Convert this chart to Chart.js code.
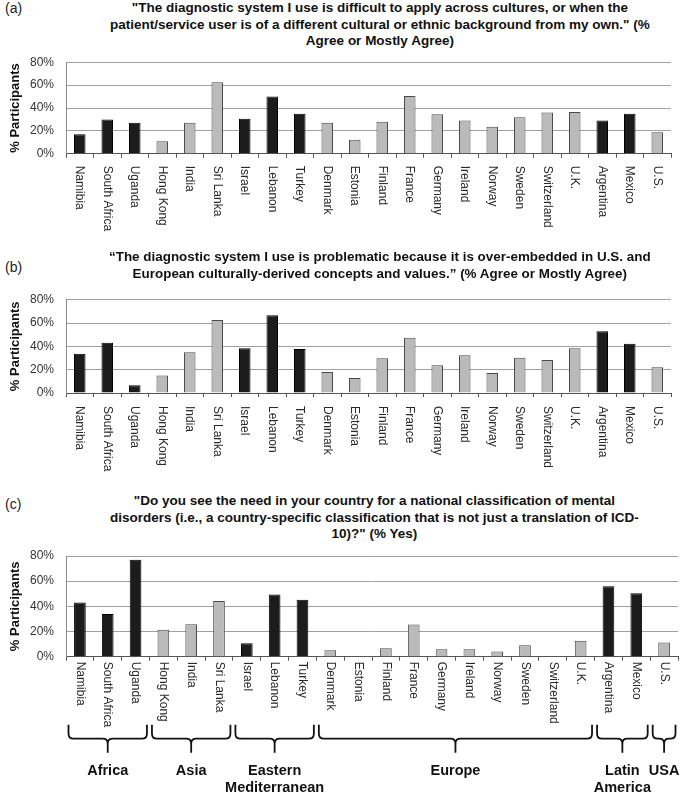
<!DOCTYPE html>
<html><head><meta charset="utf-8">
<script src="https://cdn.jsdelivr.net/npm/chart.js@4.4.0/dist/chart.umd.min.js"></script>
<style>
html,body{margin:0;padding:0;background:#fff;}
body{width:680px;height:796px;position:relative;overflow:hidden;font-family:'Liberation Sans',Arial,sans-serif;}
.cw{position:absolute;left:0;width:680px;}
.title{position:absolute;left:380px;white-space:nowrap;text-align:center;font-weight:bold;font-size:13.5px;line-height:16.5px;color:#111;transform-origin:0 0;}
.tag{position:absolute;left:5px;font-size:14px;color:#222;}
</style></head><body>

<div class="tag" style="top:0px">(a)</div>
<div class="title" data-w="540" style="top:0px">"The diagnostic system I use is difficult to apply across cultures, or when the<br>patient/service user is of a different cultural or ethnic background from my own." (%<br>Agree or Mostly Agree)</div>
<div class="cw" style="top:40px;height:210px"><canvas id="cA" width="680" height="210"></canvas></div>

<div class="tag" style="top:259px">(b)</div>
<div class="title" data-w="542" style="top:249px">“The diagnostic system I use is problematic because it is over-embedded in U.S. and<br>European culturally-derived concepts and values.” (% Agree or Mostly Agree)</div>
<div class="cw" style="top:280px;height:200px"><canvas id="cB" width="680" height="200"></canvas></div>

<div class="tag" style="top:496px">(c)</div>
<div class="title" data-w="540" style="top:493px">"Do you see the need in your country for a national classification of mental<br>disorders (i.e., a country-specific classification that is not just a translation of ICD-<br>10)?" (% Yes)</div>
<div class="cw" style="top:536px;height:260px"><canvas id="cC" width="680" height="260"></canvas></div>

<script>
// ---- data ----
const categories = ['Namibia','South Africa','Uganda','Hong Kong','India','Sri Lanka','Israel','Lebanon','Turkey','Denmark','Estonia','Finland','France','Germany','Ireland','Norway','Sweden','Switzerland','U.K.','Argentina','Mexico','U.S.'];
const regionOf = ['Africa','Africa','Africa','Asia','Asia','Asia','Eastern Mediterranean','Eastern Mediterranean','Eastern Mediterranean','Europe','Europe','Europe','Europe','Europe','Europe','Europe','Europe','Europe','Europe','Latin America','Latin America','USA'];
const darkRegions = ['Africa','Eastern Mediterranean','Latin America'];
const valuesA = [17,30,27,11,27,62.5,30.5,50,35,27,12.3,28,50.5,34.5,29,23.6,31.8,36,36.5,29,35,18.7];
const valuesB = [33.7,43,6.6,14.9,34.9,62.6,38.3,66.6,37.7,18,12.9,29.7,47.4,23.7,32.3,17.1,30.3,28.3,38.3,52.9,42.3,22];
const valuesC = [43,34,77,21.5,25.7,44.3,10.6,49.5,45.2,5.2,0,6.8,25.5,6,6,4.2,9.1,0,12.7,56,50.4,11.2];
const yTicks = [0,20,40,60,80];

// fit each title block to its measured width in the reference (condensed look)
document.querySelectorAll('.title').forEach(el=>{
  const w = el.offsetWidth, target = +el.dataset.w;
  const s = Math.min(1, target / w);
  el.style.left = (380 - target/2) + 'px';
  el.style.transform = 'scaleX(' + s + ')';
});
const FONT = "'Liberation Sans', Arial, sans-serif";

const catLabels = {
  id:'catLabels',
  afterDraw(chart, args, opts){
    const {ctx, chartArea} = chart; const x = chart.scales.x;
    ctx.save();
    ctx.font = '12px ' + FONT; ctx.fillStyle = '#2a2a2a';
    ctx.textAlign='left'; ctx.textBaseline='middle';
    categories.forEach((c,i)=>{
      ctx.save();
      ctx.translate(x.getPixelForValue(i), chartArea.bottom + opts.gap);
      ctx.rotate(Math.PI/2);
      ctx.fillText(c,0,0);
      ctx.restore();
    });
    ctx.restore();
  }
};

const braces = {
  id:'braces',
  afterDraw(chart, args, opts){
    if(!opts.show) return;
    const {ctx, chartArea} = chart; const x = chart.scales.x;
    const half = (x.getPixelForValue(1)-x.getPixelForValue(0))/2;
    const groups = [];
    regionOf.forEach((r,i)=>{
      if(groups.length && groups[groups.length-1].name===r) groups[groups.length-1].last=i;
      else groups.push({name:r,first:i,last:i});
    });
    const b = chartArea.bottom;
    const top = b+68, hy = b+82, tip = b+96, r = 5;
    ctx.save();
    ctx.strokeStyle='#111'; ctx.lineWidth=1.8;
    groups.forEach(g=>{
      const L = x.getPixelForValue(g.first)-half+2.5;
      const R = x.getPixelForValue(g.last)+half-2.5;
      const M = (L+R)/2;
      ctx.beginPath();
      ctx.moveTo(L,top); ctx.lineTo(L,hy-r); ctx.quadraticCurveTo(L,hy,L+r,hy);
      ctx.lineTo(M-r,hy); ctx.quadraticCurveTo(M,hy,M,hy+r); ctx.lineTo(M,tip);
      ctx.moveTo(R,top); ctx.lineTo(R,hy-r); ctx.quadraticCurveTo(R,hy,R-r,hy);
      ctx.lineTo(M+r,hy); ctx.quadraticCurveTo(M,hy,M,hy+r);
      ctx.stroke();
      const lines = g.name==='Eastern Mediterranean' ? ['Eastern','Mediterranean'] : g.name==='Latin America' ? ['Latin','America'] : [g.name];
      ctx.fillStyle='#111'; ctx.font='bold 14.5px '+FONT; ctx.textAlign='center'; ctx.textBaseline='middle';
      lines.forEach((t,k)=>ctx.fillText(t, M, b+114+k*17.5));
    });
    ctx.restore();
  }
};

function makeChart(id, values, g){
  const H = g.canvasH;
  return new Chart(document.getElementById(id), {
    type:'bar',
    data:{labels:categories, datasets:[{
      data:values,
      backgroundColor: regionOf.map(r=>darkRegions.includes(r)?'#1c1c1c':'#bababa'),
      borderColor: regionOf.map(r=>darkRegions.includes(r)?'#000':'#4a4a4a'),
      borderWidth:1, barPercentage:0.42, categoryPercentage:1
    }]},
    options:{
      responsive:false, animation:false, devicePixelRatio:1,
      layout:{padding:{left:0,right:680-g.right,top:g.top-g.canvasTop,bottom:0}},
      plugins:{legend:{display:false},tooltip:{enabled:false},title:{display:false},
        catLabels:{gap:g.gap}, braces:{show:!!g.braces}},
      scales:{
        x:{
          grid:{display:true,drawOnChartArea:false,drawTicks:true,tickLength:4,color:'#555',offset:true},
          border:{display:true,color:'#555',width:1},
          ticks:{display:false},
          afterFit(s){ s.height = g.canvasTop + H - g.bottom; }
        },
        y:{
          min:0,max:80,
          afterBuildTicks(s){ s.ticks = yTicks.map(v=>({value:v})); },
          ticks:{callback:v=>v+'%', font:{family:FONT,size:12}, color:'#333', padding:12},
          grid:{color:'#a0a0a0', drawTicks:false},
          border:{display:true,color:'#8a8a8a'},
          title:{display:true,text:'% Participants',font:{family:FONT,size:13,weight:'bold'},color:'#111',padding:{top:8,bottom:0}},
          afterFit(s){ s.width = 66; }
        }
      }
    },
    plugins:[catLabels, braces]
  });
}

makeChart('cA', valuesA, {canvasTop:40, canvasH:210, top:62.3, bottom:153.7, right:671, gap:12});
makeChart('cB', valuesB, {canvasTop:280, canvasH:200, top:299.7, bottom:393, right:671, gap:13});
makeChart('cC', valuesC, {canvasTop:536, canvasH:260, top:556, bottom:656.7, right:678, gap:5, braces:true});
</script>
</body></html>
